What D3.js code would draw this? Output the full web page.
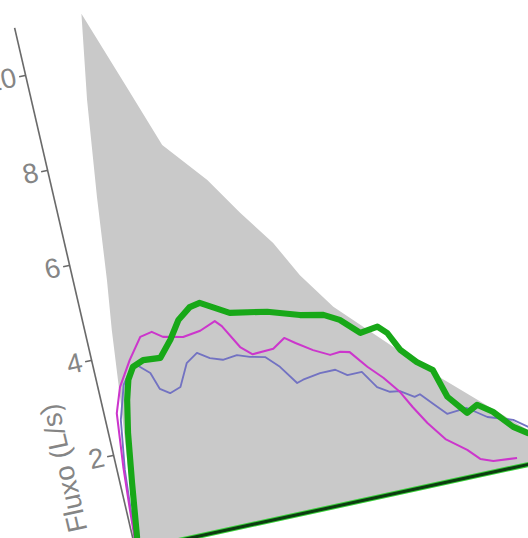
<!DOCTYPE html>
<html>
<head>
<meta charset="utf-8">
<script src="https://cdn.jsdelivr.net/npm/d3@7"></script>
<style>
	html, body { margin: 0; padding: 0; background: #fff; overflow: hidden; }
	#chart-area { width: 528px; height: 538px; }
	.axis-left text { font-family: "Liberation Sans", Arial, sans-serif; font-size: 27px; fill: #858585; }
	.axis-left path, .axis-left line { stroke: #6a6a6a; stroke-width: 1.6; }
</style>
</head>
<body>
<div id="chart-area"></div>
<script>
// predicted area (volume L, flow L/s)
const predVol  = [0, 0.07, 0.14, 0.24, 0.33, 0.41, 0.52, 0.67, 0.84, 1.18, 1.44, 1.88, 2.18, 2.49, 2.72, 3.03, 4.00, 5.01, 5.80];
const predFlow = [0, 0.29, 1.63, 3.07, 4.51, 5.53, 7.24, 9.23, 10.98, 9.30, 8.00, 7.10, 6.30, 5.55, 4.79, 4.01, 2.30, 0.69, 0];

// trial curves
const greenVol  = [0, 0.06, 0.15, 0.24, 0.32, 0.39, 0.48, 0.62, 0.83, 1.00, 1.15, 1.32, 1.45, 1.78, 2.23, 2.61, 2.89, 3.07, 3.28, 3.50, 3.60, 3.71, 3.87, 4.04, 4.14, 4.33, 4.47, 4.64, 4.84, 5.00, 5.15];
const greenFlow = [0, 0.25, 1.36, 2.38, 3.04, 3.44, 3.68, 3.77, 3.74, 4.06, 4.42, 4.63, 4.67, 4.34, 4.20, 3.99, 3.89, 3.72, 3.37, 3.42, 3.25, 2.85, 2.54, 2.31, 1.71, 1.30, 1.42, 1.21, 0.82, 0.63, 0.45];

const magentaVol  = [0, 0.03, 0.05, 0.09, 0.16, 0.27, 0.46, 0.65, 0.80, 0.92, 1.16, 1.38, 1.58, 1.65, 1.81, 1.94, 2.20, 2.36, 2.48, 2.67, 2.86, 2.99, 3.10, 3.27, 3.43, 3.59, 3.70, 3.83, 4.00, 4.23, 4.36, 4.51, 4.80];
const magentaFlow = [0, 0.29, 0.82, 1.72, 2.82, 3.33, 3.83, 4.25, 4.30, 4.15, 4.06, 4.11, 4.24, 4.11, 3.61, 3.41, 3.43, 3.60, 3.45, 3.23, 3.06, 3.08, 3.03, 2.66, 2.37, 2.01, 1.65, 1.27, 0.87, 0.56, 0.32, 0.22, 0.18];

const blueVol  = [0, 0.06, 0.06, 0.10, 0.19, 0.32, 0.44, 0.53, 0.67, 0.74, 0.85, 0.99, 1.13, 1.28, 1.42, 1.57, 1.75, 1.90, 2.08, 2.23, 2.39, 2.47, 2.69, 2.88, 3.01, 3.19, 3.33, 3.47, 3.59, 3.75, 3.82, 3.95, 4.09, 4.34, 4.56, 4.86, 5.02];
const blueFlow = [0, 0.29, 0.82, 1.65, 2.67, 3.36, 3.63, 3.70, 3.48, 3.12, 2.99, 3.07, 3.52, 3.68, 3.52, 3.43, 3.46, 3.37, 3.30, 3.04, 2.64, 2.68, 2.74, 2.74, 2.58, 2.58, 2.21, 2.06, 2.03, 1.85, 1.88, 1.63, 1.37, 1.40, 1.13, 0.96, 0.75];

const yTicks = [2, 4, 6, 8, 10];
const yLabel = 'Fluxo (L/s)';

window.addEventListener('DOMContentLoaded', () => {

	const width = 480;
	const height = 522.5;

	// the picture is a skewed photo of the chart, so the whole plot sits in a sheared group
	const svg = d3.select('#chart-area')
		.append('svg')
		.attr('width', 528)
		.attr('height', 538);

	const g = svg.append('g')
		.attr('transform', 'matrix(1, -0.2175, 0.2316, 1, 14, 27.5)');

	// Scales
	const x = d3.scaleLinear()
		.domain([0, 6])
		.range([0, width]);

	const y = d3.scaleLinear()
		.domain([0, 11])
		.range([height, 0]);

	const zip = (a, b) => a.map((d, i) => [d, b[i]]);

	// predicted area
	const area = d3.area()
		.x(d => x(d[0]))
		.y0(y(0))
		.y1(d => y(d[1]));

	g.append('path')
		.datum(zip(predVol, predFlow))
		.attr('d', area)
		.attr('fill', '#c9c9c9');

	// baseline
	g.append('line')
		.attr('x1', x(0)).attr('x2', x(6))
		.attr('y1', y(0)).attr('y2', y(0))
		.attr('stroke', '#3ad23a')
		.attr('stroke-width', 5);
	g.append('line')
		.attr('x1', x(0)).attr('x2', x(6))
		.attr('y1', y(0)).attr('y2', y(0))
		.attr('stroke', '#0c3d10')
		.attr('stroke-width', 3);

	const line = d3.line()
		.x(d => x(d[0]))
		.y(d => y(d[1]));

	g.append('path')
		.datum(zip(blueVol, blueFlow))
		.attr('d', line)
		.attr('fill', 'none')
		.attr('stroke', '#7272c2')
		.attr('stroke-width', 1.8)
		.attr('stroke-linejoin', 'round');

	g.append('path')
		.datum(zip(magentaVol, magentaFlow))
		.attr('d', line)
		.attr('fill', 'none')
		.attr('stroke', '#cc36cc')
		.attr('stroke-width', 2)
		.attr('stroke-linejoin', 'round');

	g.append('path')
		.datum(zip(greenVol, greenFlow))
		.attr('d', line)
		.attr('fill', 'none')
		.attr('stroke', '#18a818')
		.attr('stroke-width', 6)
		.attr('stroke-linejoin', 'round');

	// Y axis
	const leftAxis = d3.axisLeft(y)
		.tickValues(yTicks)
		.tickSize(6)
		.tickSizeOuter(0)
		.tickPadding(3);
	g.append('g')
		.attr('class', 'axis-left')
		.call(leftAxis);

	g.append('text')
		.attr('transform', `translate(-50, ${y(1.95)}) rotate(-90)`)
		.attr('text-anchor', 'middle')
		.attr('dominant-baseline', 'central')
		.attr('font-family', '"Liberation Sans", Arial, sans-serif')
		.attr('font-size', 27)
		.attr('fill', '#858585')
		.text(yLabel);

});
</script>
</body>
</html>
